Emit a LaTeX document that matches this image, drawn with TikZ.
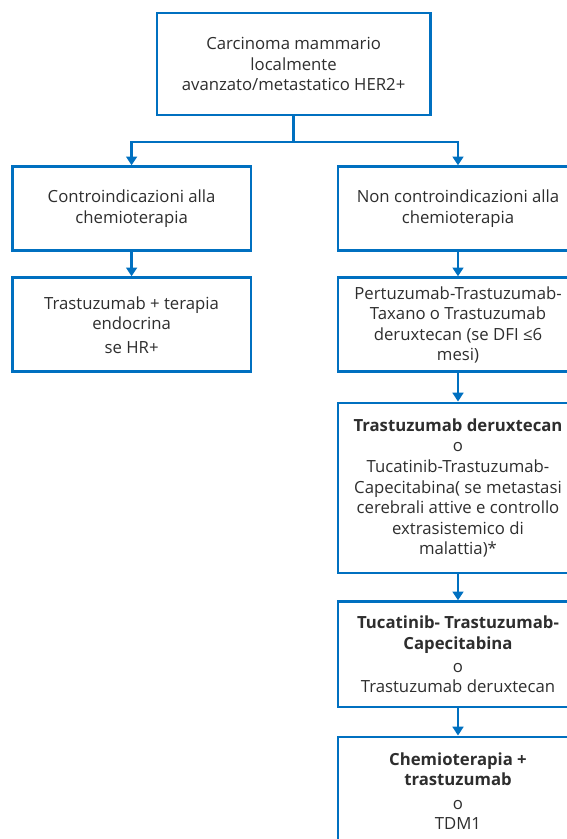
\documentclass[tikz,border=0pt]{standalone}
\usepackage{fontspec}
\setmainfont{Open Sans}
\usetikzlibrary{arrows.meta,positioning,calc}
\definecolor{flowblue}{RGB}{0,112,192}
\definecolor{ink}{HTML}{2E2E2E}
\tikzset{
  flowbox/.style={draw=flowblue,line width=2.1pt,fill=white,align=center,text=ink,
    inner sep=4pt},
  conn/.style={line width=2.1pt,draw=flowblue},
  arr/.style={-{Triangle[length=2.2mm,width=2.7mm]},line width=2.1pt,draw=flowblue},
}

\begin{document}
\begin{tikzpicture}[font=\fontsize{11.9}{14.6}\selectfont]
    \useasboundingbox (0,0) rectangle (14.175,-20.975);
    \clip (0,0) rectangle (14.175,-20.975);

    \node[flowbox,minimum width=6.83cm,minimum height=2.55cm] (diag) at (7.34,-1.6)
      {Carcinoma mammario\\localmente\\avanzato/metastatico HER2+};

    % left branch
    \node[flowbox,minimum width=5.97cm,minimum height=2.1cm] (contra) at (3.29,-5.22)
      {Controindicazioni alla\\chemioterapia};
    \node[flowbox,minimum width=5.97cm,minimum height=2.35cm] (endo) at (3.29,-8.12)
      {Trastuzumab + terapia\\endocrina\\[2pt]se HR+};

    % right branch
    \node[flowbox,minimum width=6cm,minimum height=2.1cm] (nocontra) at (11.45,-5.22)
      {Non controindicazioni alla\\chemioterapia};
    \node[flowbox,minimum width=6cm,minimum height=2.35cm] (first) at (11.45,-8.12)
      {Pertuzumab-Trastuzumab-\\Taxano o Trastuzumab\\deruxtecan (se DFI ≤6\\mesi)};
    \node[flowbox,minimum width=6cm,minimum height=4.25cm] (second) at (11.45,-12.2)
      {\textbf{Trastuzumab deruxtecan}\\o\\Tucatinib-Trastuzumab-\\Capecitabina( se metastasi\\
       cerebrali attive e controllo\\extrasistemico di\\malattia)*};
    \node[flowbox,minimum width=6cm,minimum height=2.63cm] (third) at (11.45,-16.36)
      {\textbf{Tucatinib- Trastuzumab-}\\\textbf{Capecitabina}\\[2pt]o\\Trastuzumab deruxtecan};
    \node[flowbox,minimum width=6cm,minimum height=2.7cm] (fourth) at (11.45,-19.775)
      {\textbf{Chemioterapia +}\\\textbf{trastuzumab}\\[2pt]o\\TDM1};

    \coordinate (split) at (7.34,-3.55);
    \draw[conn] (diag.south) -- (split);
    \draw[arr] (split) -| (contra.north);
    \draw[arr] (split) -| (nocontra.north);
    \draw[arr] (contra.south) -- (endo.north);
    \foreach \a/\b in {nocontra/first,first/second,second/third,third/fourth}
      \draw[arr] (\a.south) -- (\b.north);
\end{tikzpicture}
\end{document}
